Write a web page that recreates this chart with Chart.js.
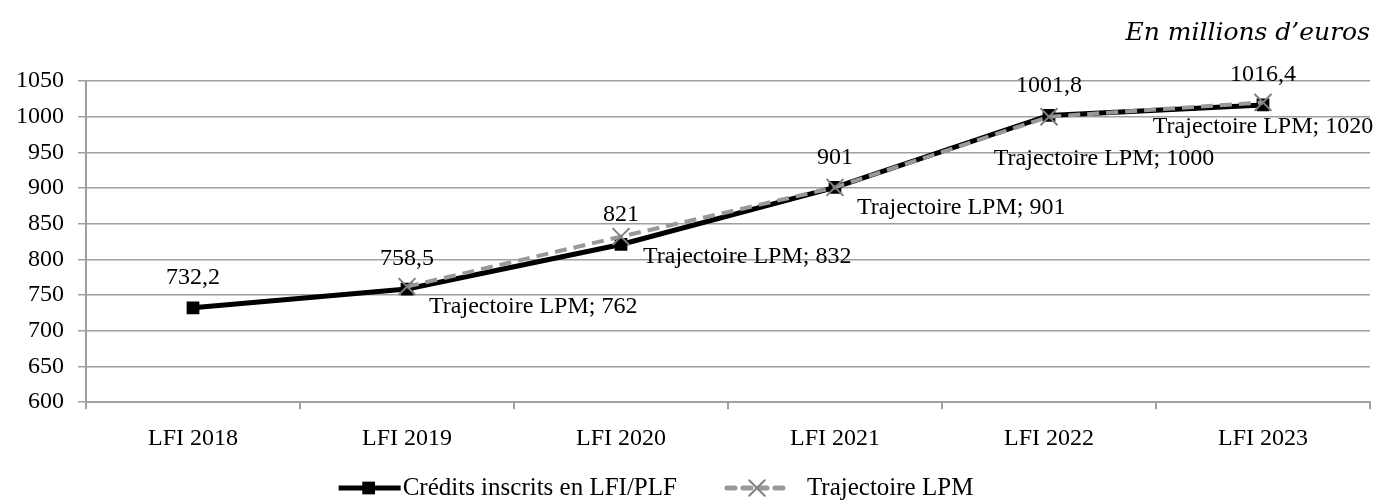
<!DOCTYPE html>
<html>
<head>
<meta charset="utf-8">
<script src="https://cdn.jsdelivr.net/npm/chart.js@4/dist/chart.umd.min.js"></script>
<style>
  html, body { margin: 0; padding: 0; background: #fff; }
  #wrap { width: 1378px; height: 504px; }
</style>
</head>
<body>
<div id="wrap"><canvas id="myChart"></canvas></div>
<script>
const categories = ['LFI 2018', 'LFI 2019', 'LFI 2020', 'LFI 2021', 'LFI 2022', 'LFI 2023'];
const credits = [732.2, 758.5, 821, 901, 1001.8, 1016.4];
const trajectoire = [null, 762, 832, 901, 1000, 1020];
const yMin = 600, yMax = 1050, yStep = 50;

const FONT = '"Liberation Serif", "DejaVu Serif", serif';
const GRID = '#a0a0a0';

const fmt = v => String(v).replace('.', ',');

const dataLabels = {
  id: 'dataLabels',
  afterDatasetsDraw(chart) {
    const ctx = chart.ctx;
    ctx.save();
    ctx.font = '24px ' + FONT;
    ctx.fillStyle = '#000';
    ctx.textBaseline = 'middle';
    chart.data.datasets.forEach((ds, i) => {
      const meta = chart.getDatasetMeta(i);
      meta.data.forEach((pt, j) => {
        const v = ds.data[j];
        if (v == null) return;
        if (i === 0) {
          ctx.textAlign = 'center';
          ctx.fillText(fmt(v), pt.x, pt.y - 30);
          return;
        }
        const txt = ds.label + '; ' + fmt(v);
        const next = meta.data[j + 1];
        if (!next) {
          ctx.textAlign = 'center';
          ctx.fillText(txt, pt.x, pt.y + 24);
        } else if (Math.abs(next.y - pt.y) < 30) {
          // flat segment after the point: drop the label further down
          ctx.textAlign = 'center';
          ctx.fillText(txt, pt.x + 55, pt.y + 42);
        } else {
          ctx.textAlign = 'left';
          ctx.fillText(txt, pt.x + 22, pt.y + 20);
        }
      });
    });
    ctx.restore();
  }
};

// legend drawn by hand: line sample with marker, then the label
const lineLegend = {
  id: 'lineLegend',
  afterDraw(chart) {
    const ctx = chart.ctx;
    const y = chart.height - 16;
    const sample = 64, gapText = 2, gapItem = 48;
    ctx.save();
    ctx.font = '25px ' + FONT;
    ctx.textBaseline = 'middle';
    const items = chart.data.datasets.map(ds => ({ ds, w: ctx.measureText(ds.label).width }));
    const total = items.reduce((s, it) => s + sample + gapText + it.w, 0) + gapItem * (items.length - 1) + 16;
    let x = chart.width / 2 - 34 - total / 2;
    items.forEach((it, i) => {
      const ds = it.ds;
      ctx.strokeStyle = ds.borderColor;
      ctx.lineWidth = 5;
      ctx.lineCap = i === 0 ? 'butt' : 'round';
      ctx.setLineDash(i === 0 ? [] : [8, 8]);
      ctx.beginPath(); ctx.moveTo(x + 2, y); ctx.lineTo(x + sample, y); ctx.stroke();
      ctx.setLineDash([]);
      ctx.fillStyle = ds.pointBorderColor || ds.backgroundColor;
      ctx.strokeStyle = ds.pointBorderColor || ds.backgroundColor;
      ctx.lineWidth = ds.pointBorderWidth || 0;
      Chart.helpers.drawPoint(ctx, {
        pointStyle: ds.pointStyle,
        radius: i === 0 ? 9 : 11,
        borderWidth: ds.pointBorderWidth || 0
      }, x + sample / 2, y);
      x += sample + gapText + (i === 0 ? 0 : 16);
      ctx.fillStyle = '#000';
      ctx.textAlign = 'left';
      ctx.fillText(ds.label, x, y);
      x += it.w + gapItem;
    });
    ctx.restore();
  }
};

new Chart('myChart', {
  type: 'line',
  data: {
    labels: categories,
    datasets: [{
      label: 'Crédits inscrits en LFI/PLF',
      data: credits,
      borderColor: '#000',
      backgroundColor: '#000',
      borderWidth: 5,
      pointStyle: 'rect',
      pointRadius: 9,
      pointBorderWidth: 0,
      tension: 0,
      order: 2
    }, {
      label: 'Trajectoire LPM',
      data: trajectoire,
      borderColor: '#999999',
      backgroundColor: '#808080',
      borderWidth: 4,
      borderDash: [12, 7],
      pointStyle: 'crossRot',
      pointRadius: 12,
      pointBorderColor: '#808080',
      pointBorderWidth: 2,
      tension: 0,
      order: 1
    }]
  },
  options: {
    responsive: true,
    maintainAspectRatio: false,
    animation: false,
    layout: { autoPadding: false, padding: { left: 0, right: 8, top: 0, bottom: 36 } },
    scales: {
      x: {
        offset: true,
        grid: { offset: true, drawOnChartArea: false, color: GRID, lineWidth: 2, tickLength: 7 },
        border: { color: GRID, width: 2 },
        ticks: { color: '#000', font: { family: FONT, size: 24 }, padding: 15 }
      },
      y: {
        min: yMin, max: yMax,
        afterFit: s => { s.width = 86; },
        grid: { color: GRID, lineWidth: 1.5, tickLength: 8 },
        border: { color: GRID, width: 2 },
        ticks: {
          stepSize: yStep, color: '#000', font: { family: FONT, size: 24 }, padding: 14,
          callback: v => String(v)
        }
      }
    },
    plugins: {
      title: {
        display: true,
        text: 'En millions d\u2019euros',
        align: 'end',
        color: '#000',
        font: { family: '"DejaVu Serif", serif', size: 25, style: 'italic', weight: 'normal' },
        padding: { top: 18, bottom: 33 }
      },
      legend: { display: false },
      tooltip: { enabled: false }
    }
  },
  plugins: [dataLabels, lineLegend]
});
</script>
</body>
</html>
